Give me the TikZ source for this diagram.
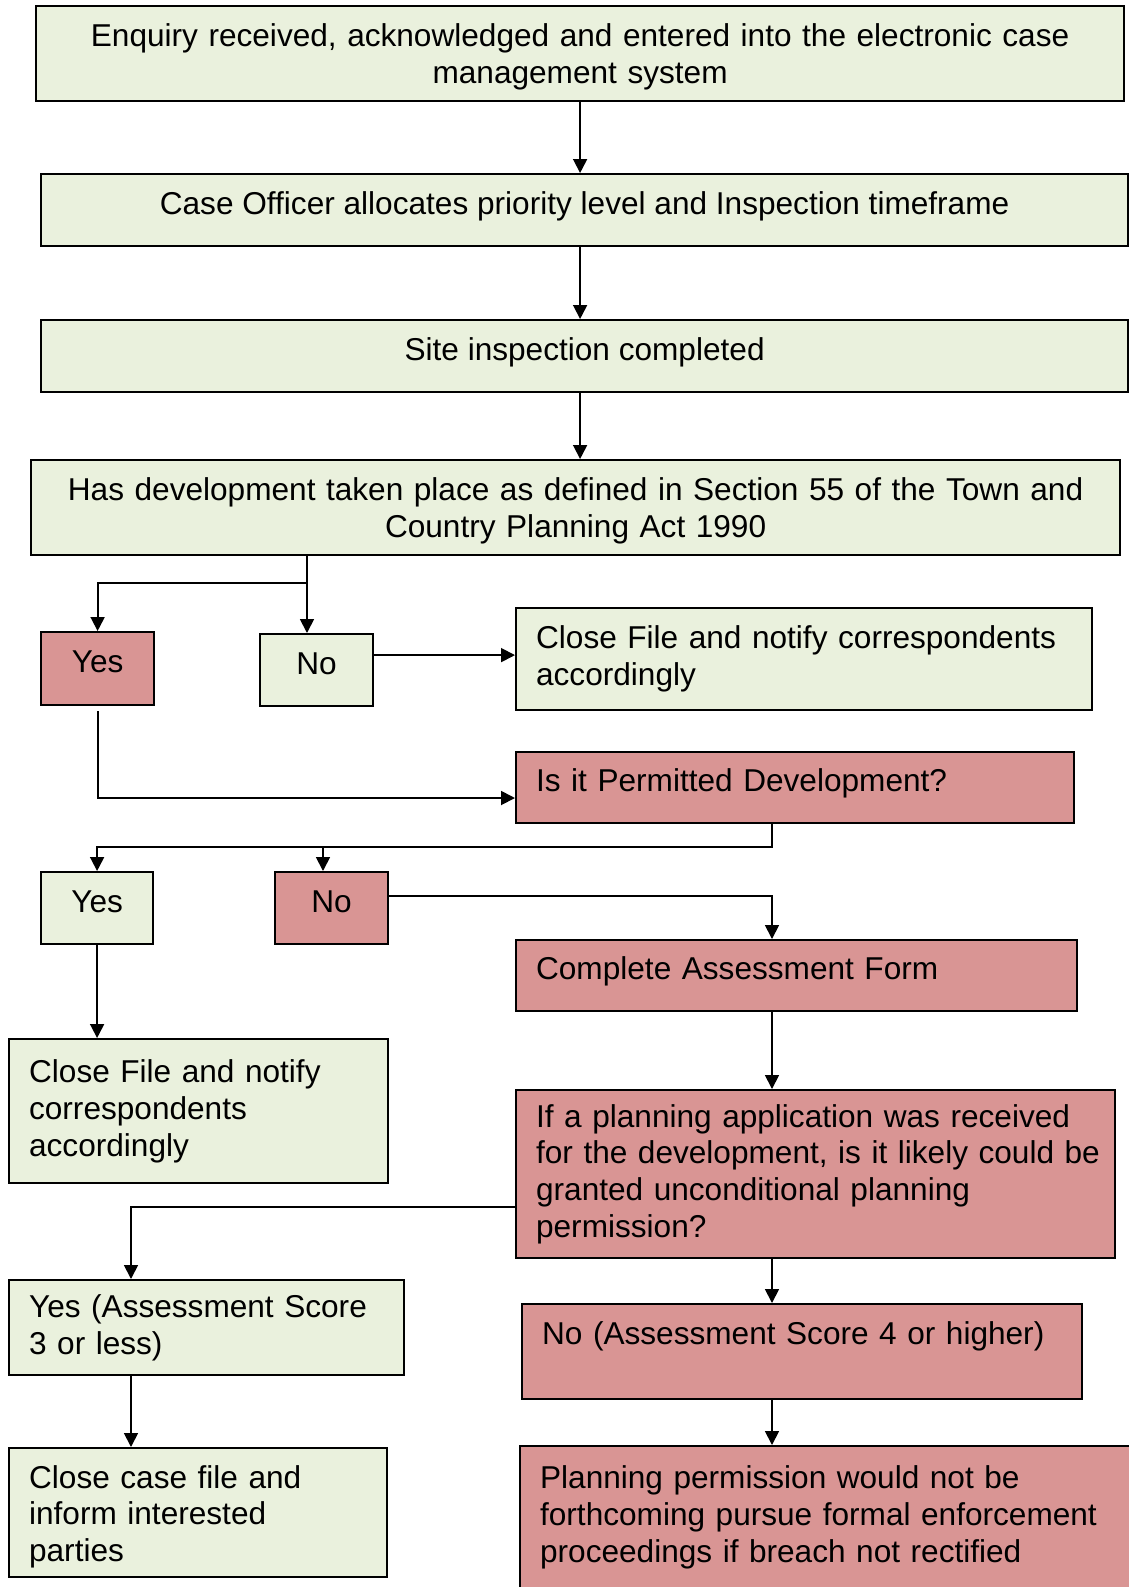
\documentclass[tikz,border=0pt]{standalone}
\usepackage{fontspec}
\setmainfont{Liberation Sans}
\usetikzlibrary{arrows.meta}
\definecolor{paleolive}{HTML}{EAF1DD}
\definecolor{palered}{HTML}{D99594}
\tikzset{
  box/.style={draw,line width=1.1pt,anchor=north west,inner xsep=10pt,inner ysep=0pt,
    font=\fontsize{15.8}{18.4}\selectfont},
  gbox/.style={box,fill=paleolive},
  rbox/.style={box,fill=palered},
  lbox/.style={align=left},
  oneline/.style={text height=11.5pt,text depth=7.5pt},
  arr/.style={line width=0.9pt,-{Triangle[length=7pt,width=7pt]}}
}

\begin{document}
\begin{tikzpicture}[x=0.5pt,y=-0.5pt]
  \useasboundingbox (0,0) rectangle (1129,1587);
  \node[gbox,align=center,text height=14.5pt,text width=524pt,minimum width=544pt,minimum height=47.5pt] (enq) at (35,5)
    {Enquiry received, acknowledged and entered into the electronic case\\management system};
  \node[gbox,oneline,minimum width=543.5pt,minimum height=36pt] (alloc) at (40,173)
    {Case Officer allocates priority level and Inspection timeframe};
  \node[gbox,oneline,minimum width=543.5pt,minimum height=36pt] (site) at (40,319) {Site inspection completed};
  \node[gbox,align=center,text height=14.5pt,text width=524.5pt,minimum width=544.5pt,minimum height=47.5pt] (dev) at (30,459)
    {Has development taken place as defined in Section 55 of the Town and\\Country Planning Act 1990};
  \node[rbox,oneline,minimum width=56.5pt,minimum height=36.5pt] (yesA) at (40,631) {Yes};
  \node[gbox,oneline,minimum width=56.5pt,minimum height=36pt] (noA) at (259,633) {No};
  \node[gbox,lbox,text width=268pt,minimum width=288pt,minimum height=51pt] (closeA) at (515,607)
    {Close File and notify correspondents\\accordingly};
  \node[rbox,lbox,oneline,text width=259pt,minimum width=279pt,minimum height=35.5pt] (permit) at (515,751)
    {Is it Permitted Development?};
  \node[gbox,oneline,minimum width=56pt,minimum height=36pt] (yesB) at (40,871) {Yes};
  \node[rbox,oneline,minimum width=56.5pt,minimum height=36pt] (noB) at (274,871) {No};
  \node[rbox,lbox,oneline,text width=260.5pt,minimum width=280.5pt,minimum height=35.5pt] (assess) at (515,939)
    {Complete Assessment Form};
  \node[gbox,lbox,text width=169.5pt,minimum width=189.5pt,minimum height=72pt] (closeB) at (8,1038)
    {Close File and notify\\correspondents\\accordingly};
  \node[rbox,lbox,text width=279.5pt,minimum width=299.5pt,minimum height=84pt] (uncond) at (515,1089)
    {If a planning application was received\\\mbox{for the development, is it likely could be}\\granted unconditional planning\\permission?};
  \node[gbox,lbox,text width=177.5pt,minimum width=197.5pt,minimum height=47.5pt] (yesC) at (8,1279)
    {Yes (Assessment Score\\3 or less)};
  \node[rbox,lbox,text width=260pt,minimum width=280pt,minimum height=47.5pt] (noC) at (521,1303)
    {No (Assessment Score 4 or higher)\\\mbox{}};
  \node[gbox,lbox,text height=15.5pt,text width=169pt,minimum width=189pt,minimum height=64.5pt] (closeC) at (8,1447)
    {Close case file and\\inform interested\\parties};
  \node[rbox,lbox,text width=290pt,minimum width=310pt,minimum height=86.4pt] (enforce) at (519,1445)
    {Planning permission would not be\\forthcoming pursue formal enforcement\\proceedings if breach not rectified\\\mbox{}};

  \coordinate (forkA) at (307,583);
  \coordinate (turnA) at (98,798);
  \coordinate (forkB) at (772,847);
  \coordinate (forkC) at (323,847);
  \coordinate (forkD) at (131,1207);

  \draw[arr] (enq) -- (enq |- alloc.north);
  \draw[arr] (enq.south |- alloc.south) -- (enq.south |- site.north);
  \draw[arr] (enq.south |- site.south) -- (enq.south |- dev.north);
  \draw[arr] (forkA |- dev.south) -- (forkA |- noA.north);
  \draw[arr] (forkA) -| (yesA.north);
  \draw[arr] ([yshift=2pt]closeA.west -| noA.east) -- ([yshift=2pt]closeA.west);
  \draw[arr] ([yshift=-2.5pt]yesA.south) -- (yesA.south |- turnA) -- (permit.west |- turnA);
  \draw[arr] (forkB |- permit.south) -- (forkB) -| (yesB.north);
  \draw[arr] (forkC) -- (forkC |- noB.north);
  \draw[arr] ([yshift=6pt]noB.east) -| (forkB |- assess.north);
  \draw[arr] (forkB |- assess.south) -- (forkB |- uncond.north);
  \draw[arr] (yesB) -- (yesB |- closeB.north);
  \draw[arr] (uncond.west |- forkD) -| (forkD |- yesC.north);
  \draw[arr] (forkB |- uncond.south) -- (forkB |- noC.north);
  \draw[arr] (forkD |- yesC.south) -- (forkD |- closeC.north);
  \draw[arr] (forkB |- noC.south) -- (forkB |- enforce.north);
\end{tikzpicture}
\end{document}
